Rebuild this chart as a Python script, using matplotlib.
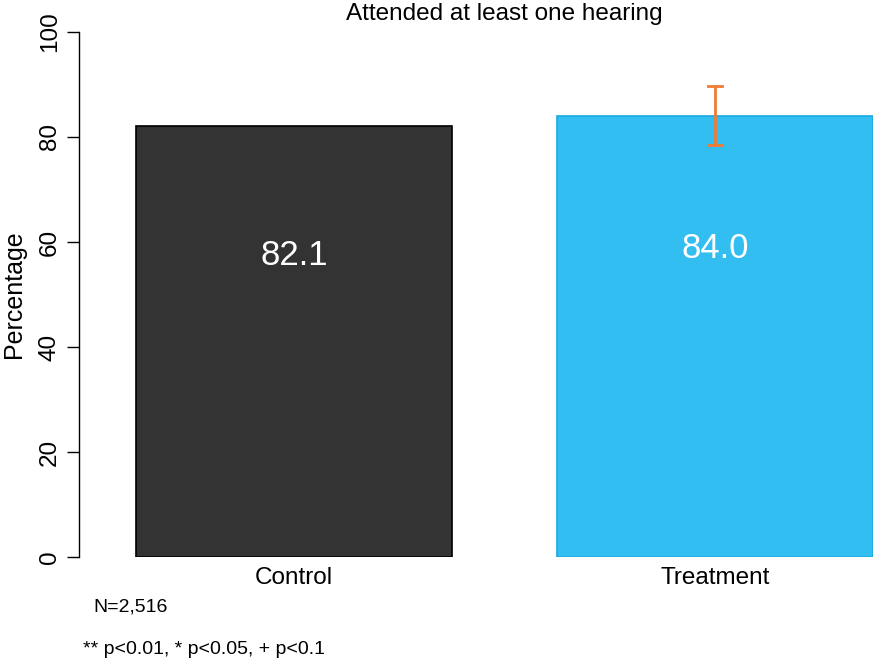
import matplotlib.pyplot as plt

plt.rcParams['font.family'] = ['Liberation Sans', 'DejaVu Sans']

grupos = ["Control", "Treatment"]
valores = [82.1, 84.0]
etiquetas = ["82.1", "84.0"]
err_lo = [None, 78.5]
err_hi = [None, 89.7]
yticks = [0, 20, 40, 60, 80, 100]

fig = plt.figure(figsize=(8.73, 6.62), dpi=100)
ax = fig.add_axes([79 / 873, 1 - 557 / 662, 1 - 79 / 873, (557 - 32) / 662])

pos = [0, 1]
colores = ["#333333", "#33BEF2"]
bordes = ["#000000", "#1AA9E3"]
ax.bar(pos, valores, width=0.75, color=colores, edgecolor=bordes, linewidth=1.2)

for p, v, t in zip(pos, valores, etiquetas):
    ax.text(p, v * 0.7, t, color="white", fontsize=25, ha="center", va="center")

# intervalo de confianza solo para tratamiento
for p, lo, hi in zip(pos, err_lo, err_hi):
    if lo is None:
        continue
    ax.plot([p, p], [lo, hi], color="#EE7D33", lw=2)
    ax.plot([p - 0.016, p + 0.016], [hi, hi], color="#EE7D33", lw=2)
    ax.plot([p - 0.016, p + 0.016], [lo, lo], color="#EE7D33", lw=2)

ax.set_xlim(-0.511, 1.375)
ax.set_ylim(0, 100)
ax.set_yticks(yticks)
ax.set_yticklabels([str(t) for t in yticks], rotation=90, va="center", fontsize=17.5)
ax.tick_params(axis="y", length=9, width=1, pad=4)
ax.set_xticks([])
for s in ["top", "right", "bottom"]:
    ax.spines[s].set_visible(False)
ax.spines["left"].set_linewidth(1)

for p, g in zip(pos, grupos):
    ax.text(p, -4, g, fontsize=17.5, ha="center", va="center", clip_on=False)

fig.text(14 / 873, 1 - 294 / 662, "Percentage", fontsize=18, rotation=90, ha="center", va="center")
fig.text(504 / 873, 1 - 14 / 662, "Attended at least one hearing", fontsize=17.5, ha="center", va="center")
fig.text(93 / 873, 1 - 607 / 662, "N=2,516", fontsize=14, ha="left", va="center")
fig.text(83 / 873, 1 - 649 / 662, "** p<0.01, * p<0.05, + p<0.1", fontsize=14, ha="left", va="center")

fig.savefig("out.png", dpi=100)
